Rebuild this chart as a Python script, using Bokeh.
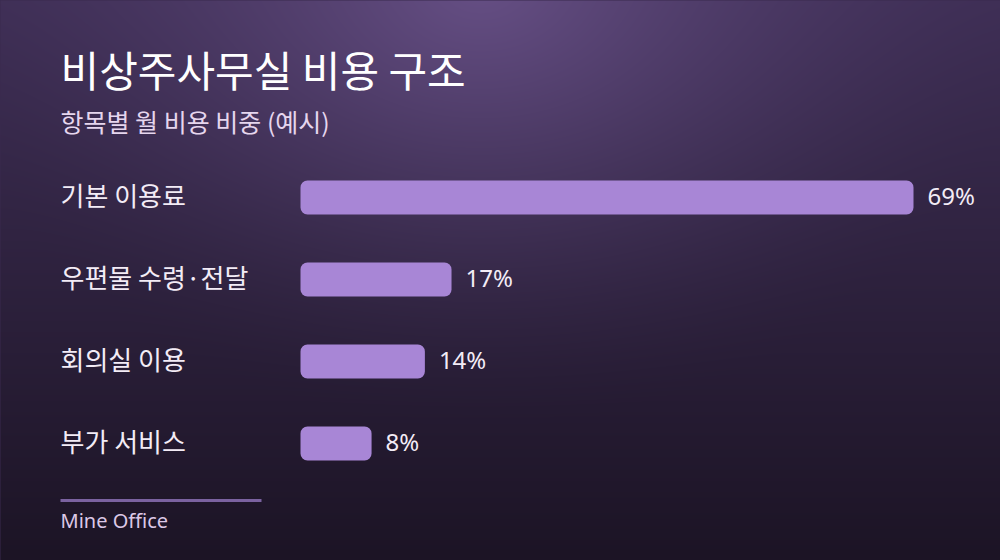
import numpy as np
from bokeh.plotting import figure
from bokeh.models import Range1d
from bokeh.core.properties import value
from bokeh.embed import file_html
from bokeh.resources import INLINE

# ---- data ----
categories = ["기본 이용료", "우편물 수령·전달", "회의실 이용", "부가 서비스"]
shares = [69, 17, 14, 8]
share_labels = ["69%", "17%", "14%", "8%"]
title_text = "비상주사무실 비용 구조"
subtitle_text = "항목별 월 비용 비중 (예시)"
source_text = "Mine Office"

# ---- layout ----
W, H = 1000, 560
BAR_X0 = 300          # pixel where bars start
BAR_FULL = 613        # pixel length of the largest bar
k = BAR_FULL / max(shares)


def px(xp):
    return (xp - BAR_X0) / k


KR = value("Noto Sans CJK KR")

p = figure(width=W, height=H, x_range=Range1d(px(0), px(W)), y_range=Range1d(H, 0),
           output_backend="svg", toolbar_location=None, min_border=0)
p.styles = {"position": "fixed", "left": "0px", "top": "0px", "background-color": "#3a2b4f"}
p.axis.visible = False
p.grid.visible = False
p.outline_line_color = None
p.background_fill_color = "#3a2b4f"
p.border_fill_color = "#3a2b4f"

# background gradient (slightly oversized to avoid edge seams)
PAD = 4
GW, GH = W + 2 * PAD, H + 2 * PAD
yy, xx = np.mgrid[0:GH, 0:GW].astype(float)
yy -= PAD
xx -= PAD
t = np.clip(yy / H, 0, 1)[..., None]
c0 = np.array([63, 47, 86], float)
c1 = np.array([28, 20, 37], float)
hl = np.array([103, 80, 134], float)
base = c0 * (1 - t) + c1 * t
d = np.sqrt((xx - 480) ** 2 + ((yy + 20) * 1.25) ** 2) / 560
w = (np.clip(1 - d, 0, 1) ** 1.7)[..., None]
col = base * (1 - w) + hl * w
img = np.empty((GH, GW), dtype=np.uint32)
view = img.view(dtype=np.uint8).reshape((GH, GW, 4))
view[..., 0] = col[..., 0].astype(np.uint8)
view[..., 1] = col[..., 1].astype(np.uint8)
view[..., 2] = col[..., 2].astype(np.uint8)
view[..., 3] = 255
p.image_rgba(image=[img], x=px(-PAD), y=-PAD, dw=GW / k, dh=GH)

# bars
ys = [197 + 82 * i for i in range(len(categories))]
p.hbar(y=ys, left=0, right=shares, height=34, fill_color="#a886d6",
       line_color=None, border_radius=7)

# category labels
p.text(x=[px(60)] * len(categories), y=[y - 3 for y in ys], text=categories, text_font=KR,
       text_font_size="26px", text_color="#f3ecf6", text_baseline="middle",
       text_align="left")

# value labels
p.text(x=[s + 14 / k for s in shares], y=[y - 2 for y in ys], text=share_labels,
       text_font=value("Noto Sans"), text_font_size="24px", text_color="#f3ecf6",
       text_baseline="middle", text_align="left")

# title & subtitle
p.text(x=[px(60)], y=[68], text=[title_text], text_font=KR, text_font_size="42px",
       text_color="#ffffff", text_baseline="middle", text_align="left")
p.text(x=[px(60)], y=[120], text=[subtitle_text], text_font=KR, text_font_size="25px",
       text_color="#e6d6ee", text_baseline="middle", text_align="left")

# footer
p.segment(x0=[px(60)], y0=[500], x1=[px(261)], y1=[500], line_color="#7b62a0", line_width=3)
p.text(x=[px(60)], y=[520], text=[source_text], text_font=value("Noto Sans"),
       text_font_size="20px", text_color="#dcc8e6", text_baseline="middle", text_align="left")

open("out.html", "w").write(file_html(p, INLINE))
